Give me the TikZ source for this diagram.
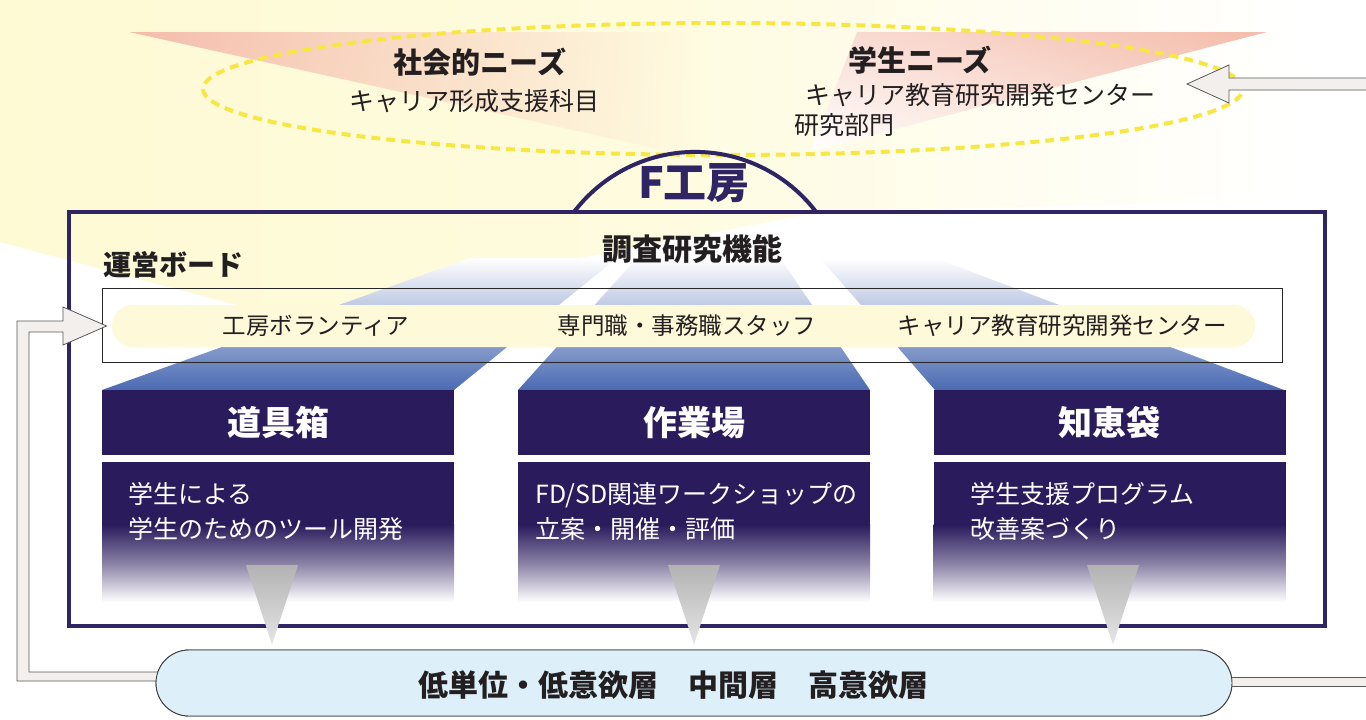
\documentclass[tikz,border=0pt]{standalone}
\usepackage{fontspec}
\setmainfont{Noto Sans CJK JP}
\usetikzlibrary{calc,shapes.geometric,shadings}
\definecolor{bgy}{HTML}{FEFAD4}
\definecolor{pinkc}{HTML}{F4BCAB}
\definecolor{dpur}{HTML}{2A1B5C}
\definecolor{bordp}{HTML}{2F2464}
\definecolor{beamb}{HTML}{4A6AB2}
\definecolor{dashy}{HTML}{F8E743}
\definecolor{pillc}{HTML}{DDF0FA}
\definecolor{txt}{HTML}{231F20}
\definecolor{loopf}{HTML}{F2EFED}
\definecolor{bandc}{HTML}{FEF9D8}
\begin{document}
\begin{tikzpicture}[x=1pt,y=1pt,
  hdrtxt/.style={font=\bfseries\fontsize{34}{36}\selectfont, text=white},
  bodytxt/.style={font=\fontsize{25}{35}\selectfont, text=white, align=left, anchor=north west, inner sep=0pt},
  lbl/.style={font=\fontsize{25}{28}\selectfont, text=txt, inner sep=0pt},
  blbl/.style={font=\bfseries\fontsize{29}{32}\selectfont, text=txt, inner sep=0pt},
  boardtxt/.style={font=\fontsize{23.5}{26}\selectfont, text=txt, inner sep=0pt},
  hdrbox/.style={fill=dpur, minimum width=352pt, minimum height=65pt, inner sep=0pt, hdrtxt},
  bodybox/.style={minimum width=352pt, minimum height=138pt, inner sep=0pt},
  looppath/.style={fill=loopf, draw=black!65, line width=0.8pt, line join=miter},
  beam/.style={top color=white, bottom color=beamb},
  tri/.style={top color=black!30, bottom color=black!10},
]
\useasboundingbox (0,0) rectangle (1366,-720);
\fill[white] (0,0) rectangle (1366,-720);

% background glow
\shade[left color=bgy, right color=white, middle color=bgy!75!white]
  (0,0) -- (1310,0) -- (1290,-200) -- (820,-212) -- (560,-262) -- (330,-330) -- (0,-242) -- cycle;

% pink wedges
\shade[upper left=pinkc, upper right=bgy!72!white, lower left=pinkc!85!bgy, lower right=bgy!72!white]
  (129,-32) -- (700,-32) -- (700,-158) -- cycle;
\shade[upper left=pinkc!50!white, upper right=pinkc, lower left=white, lower right=pinkc!60!white]
  (857,-32) -- (1267,-32) -- (811,-151) -- cycle;

% needs ellipse
\node[ellipse, draw=dashy, line width=4pt, dash pattern=on 9pt off 6pt,
      minimum width=1040pt, minimum height=132pt, inner sep=0pt] (needs) at (723,-89) {};

\node[blbl] (soc) at (480,-62) {社会的ニーズ};
\node[lbl] (soc2) at (474,-101) {キャリア形成支援科目};
\node[blbl] (stu) at (920,-60) {学生ニーズ};
\node[lbl] (stu2) at (980,-95) {キャリア教育研究開発センター};
\node[lbl] (stu3) at (844,-125) {研究部門};

% dome
\draw[bordp, line width=4pt] (574,-212) arc[start angle=142.8, end angle=37.2, radius=152pt];
\node[font=\bfseries\fontsize{43}{46}\selectfont, text=bordp, inner sep=0pt] (fk) at (694,-183) {F工房};

% main box
\draw[bordp, line width=4pt] (69,-212) rectangle (1325,-626);

% beams
\shade[beam] (102,-390) -- (454,-390) -- (617,-258) -- (470,-258) -- cycle;
\shade[beam] (518,-390) -- (870,-390) -- (780,-258) -- (637,-258) -- cycle;
\shade[beam] (935,-390) -- (1284,-390) -- (935,-258) -- (820,-258) -- cycle;

% board
\node[draw=black!85, line width=0.8pt, minimum width=1180pt, minimum height=74pt, inner sep=0pt] (board) at (692,-325) {};
\fill[bandc, rounded corners=21pt] (112,-305) rectangle (1255,-347);
\node[boardtxt] (v1) at (316,-326) {工房ボランティア};
\node[boardtxt] (v2) at (687,-326) {専門職・事務職スタッフ};
\node[boardtxt] (v3) at (1062,-326) {キャリア教育研究開発センター};

\node[font=\bfseries\fontsize{28}{30}\selectfont, text=txt, inner sep=0pt, anchor=west] (unei) at (103,-265) {運営ボード};
\node[font=\bfseries\fontsize{30}{32}\selectfont, text=txt, inner sep=0pt] (chosa) at (692,-249) {調査研究機能};

% columns
\foreach \cx/\n in {278/1, 694/2, 1109.5/3}{
  \fill[dpur] (\cx-176,-462) rectangle (\cx+176,-525);
  \shade[top color=dpur, bottom color=white, middle color=dpur!55!white] (\cx-176,-524.5) rectangle (\cx+176,-602);
  \node[bodybox] (b\n) at (\cx,-531) {};
}
\node[hdrbox] (h1) at (278,-422.5) {道具箱};
\node[hdrbox] (h2) at (694,-422.5) {作業場};
\node[hdrbox] (h3) at (1109.5,-422.5) {知恵袋};
\node[bodytxt] (t1) at (128,-482) {学生による\\学生のためのツール開発};
\node[bodytxt] (t2) at (535,-482) {FD/SD関連ワークショップの\\立案・開催・評価};
\node[bodytxt] (t3) at (970,-482) {学生支援プログラム\\改善案づくり};

% pill
\node[draw=black!75, line width=0.9pt, fill=pillc, rounded corners=33pt,
      minimum width=1076pt, minimum height=66pt, inner sep=0pt] (pill) at (694,-683) {};

% feedback loop
\coordinate (tipL) at ($(board.west)+(5,-1)$);
\coordinate (tipR) at ($(needs.east)+(-58,5)$);
\path[looppath] ($(pill.west)+(15,11)$) -- (29,-672) -- (29,-332) -- (63,-332) -- (63,-345) -- (tipL)
  -- (63,-307) -- (63,-321) -- (17,-321) -- (17,-681) -- ($(pill.west)+(15,2)$) -- cycle;
\path[looppath] (1368,-78) -- (1229,-78) -- (1229,-65) -- (tipR) -- (1229,-103) -- (1229,-90) -- (1368,-90) -- cycle;
\path[looppath] ($(pill.east)+(-15,6)$) -- (1368,-677) -- (1368,-686) -- ($(pill.east)+(-15,-3)$) -- cycle;

% redraw pill on top of loop ends
\node[draw=black!75, line width=0.9pt, fill=pillc, rounded corners=33pt,
      minimum width=1076pt, minimum height=66pt, inner sep=0pt] (pill2) at (pill) {};
% triangles from columns to pill
\foreach \n/\dx in {1/-6, 2/0, 3/3.5}{
  \shade[tri] ($(b\n.south)+(\dx-26,35)$) -- ($(b\n.south)+(\dx+26,35)$) -- ($(b\n.south |- pill.north)+(\dx,5)$) -- cycle;
}
\node[font=\bfseries\fontsize{30}{32}\selectfont, text=txt, inner sep=0pt] (layers) at (673,-685) {低単位・低意欲層　中間層　高意欲層};
\end{tikzpicture}
\end{document}
